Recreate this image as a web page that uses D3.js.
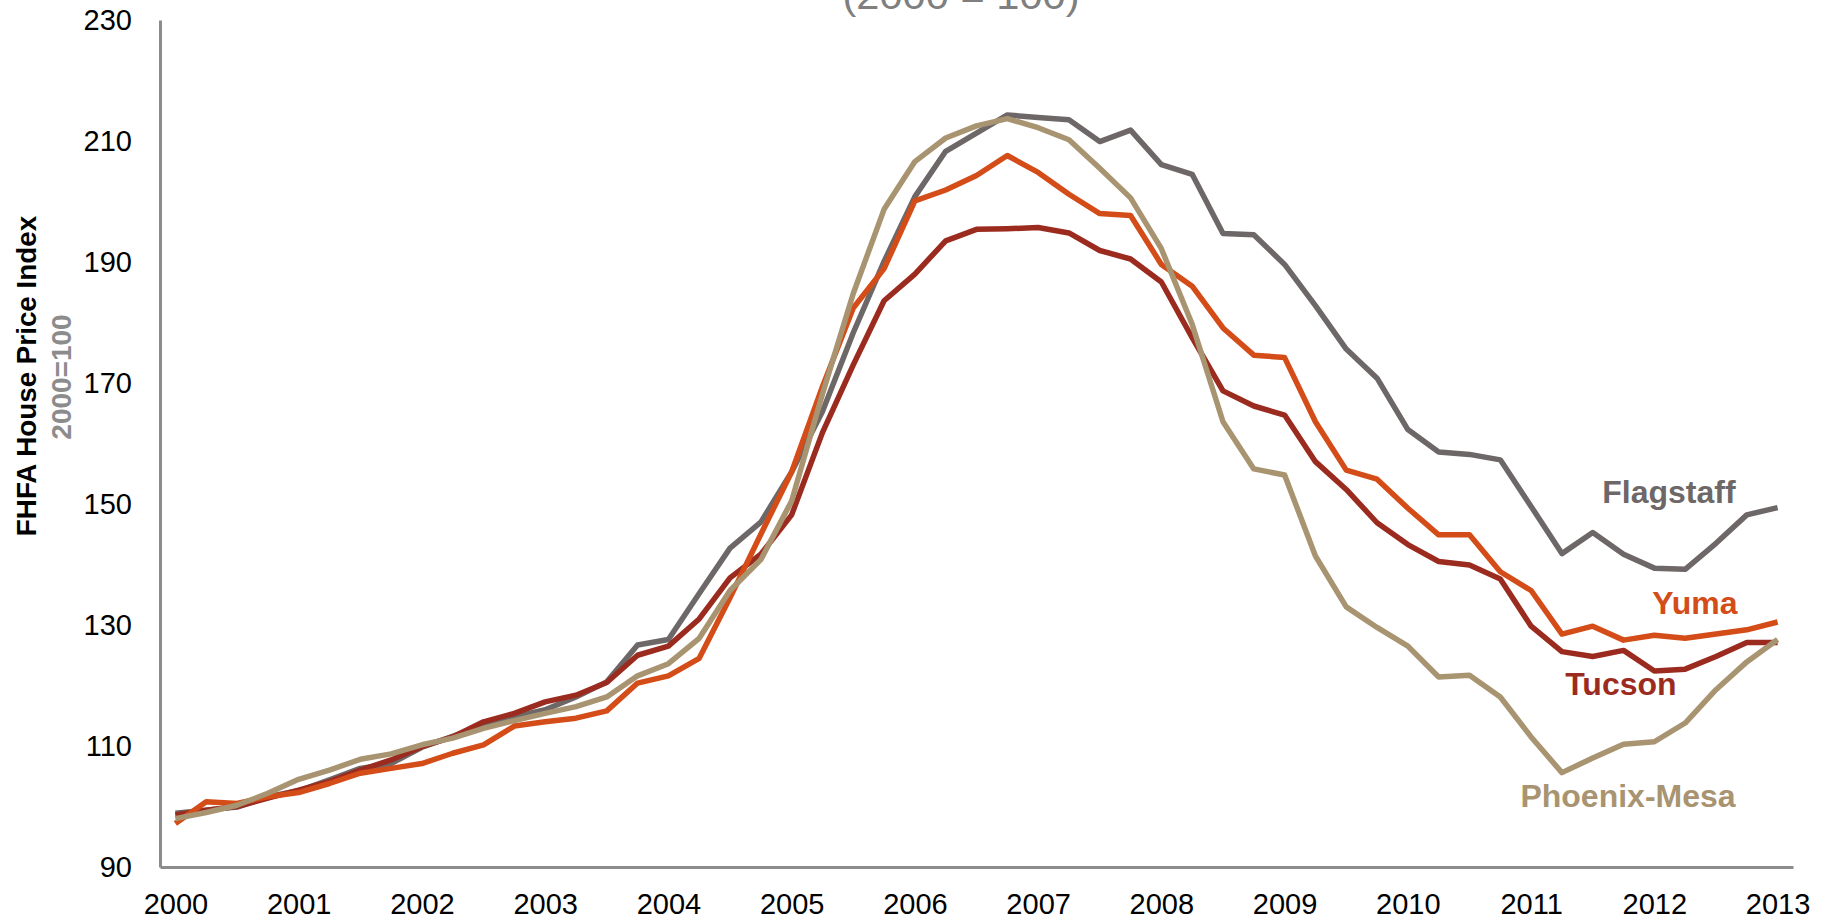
<!DOCTYPE html>
<html>
<head>
<meta charset="utf-8">
<script src="https://cdn.jsdelivr.net/npm/d3@7/dist/d3.min.js"></script>
<style>
  html, body { margin: 0; padding: 0; background: #ffffff; overflow: hidden; }
  svg { display: block; }
</style>
</head>
<body>
<svg id="chart" width="1830" height="920"></svg>
<script>
// ---------------- DATA ----------------
const quarters = [
  "2000 Q1","2000 Q2","2000 Q3","2000 Q4","2001 Q1","2001 Q2","2001 Q3","2001 Q4",
  "2002 Q1","2002 Q2","2002 Q3","2002 Q4","2003 Q1","2003 Q2","2003 Q3","2003 Q4",
  "2004 Q1","2004 Q2","2004 Q3","2004 Q4","2005 Q1","2005 Q2","2005 Q3","2005 Q4",
  "2006 Q1","2006 Q2","2006 Q3","2006 Q4","2007 Q1","2007 Q2","2007 Q3","2007 Q4",
  "2008 Q1","2008 Q2","2008 Q3","2008 Q4","2009 Q1","2009 Q2","2009 Q3","2009 Q4",
  "2010 Q1","2010 Q2","2010 Q3","2010 Q4","2011 Q1","2011 Q2","2011 Q3","2011 Q4",
  "2012 Q1","2012 Q2","2012 Q3","2012 Q4","2013 Q1"
];
const yearTickQuarters = ["2000 Q1","2001 Q1","2002 Q1","2003 Q1","2004 Q1","2005 Q1","2006 Q1",
  "2007 Q1","2008 Q1","2009 Q1","2010 Q1","2011 Q1","2012 Q1","2013 Q1"];
const yearTickLabels = ["2000","2001","2002","2003","2004","2005","2006",
  "2007","2008","2009","2010","2011","2012","2013"];
const yTicks = [90, 110, 130, 150, 170, 190, 210, 230];

const flagstaff = [98.9,99.4,99.9,101.6,102.6,104.4,106.3,107.1,109.8,111.6,113.4,114.8,116.0,118.1,120.6,126.7,
  127.6,135.2,142.7,147.0,155.3,165.3,178.3,190.1,200.8,208.3,211.3,214.3,213.9,213.5,209.9,211.8,
  206.1,204.5,194.7,194.5,189.6,182.8,175.6,170.8,162.3,158.6,158.2,157.3,149.6,141.8,145.3,141.7,
  139.4,139.2,143.5,148.2,149.4];
const tucson = [98.6,99.4,100.0,101.4,102.7,104.1,106.0,107.7,109.9,111.5,114.0,115.4,117.3,118.4,120.5,125.0,
  126.5,131.0,137.8,141.7,148.2,161.8,173.0,183.6,188.0,193.5,195.4,195.5,195.7,194.8,191.9,190.5,
  186.7,177.5,168.7,166.2,164.7,157.0,152.4,146.9,143.3,140.5,139.9,137.6,129.8,125.6,124.8,125.8,
  122.4,122.7,124.8,127.1,127.1];
const yuma = [97.2,100.8,100.5,101.6,102.3,103.8,105.5,106.3,107.1,108.8,110.2,113.3,114.0,114.6,115.8,120.4,
  121.6,124.5,134.5,145.0,155.3,169.4,182.4,188.9,200.1,201.9,204.3,207.6,204.8,201.2,198.0,197.7,
  189.6,186.0,179.1,174.6,174.2,163.6,155.6,154.1,149.3,144.9,144.9,138.8,135.7,128.5,129.8,127.5,
  128.3,127.8,128.5,129.2,130.5];
const phoenixMesa = [98.0,99.0,100.2,102.2,104.5,106.0,107.8,108.7,110.2,111.3,112.9,114.2,115.4,116.5,118.1,121.6,
  123.6,127.8,135.7,140.8,150.5,168.2,184.8,198.7,206.6,210.5,212.5,213.7,212.2,210.2,205.5,200.6,
  192.2,179.7,163.6,155.8,154.8,141.4,133.0,129.6,126.5,121.4,121.7,118.1,111.5,105.6,108.0,110.3,
  110.7,113.8,119.3,123.9,127.6];

const seriesNames = ["Flagstaff", "Tucson", "Yuma", "Phoenix-Mesa"];
const seriesValues = [flagstaff, tucson, yuma, phoenixMesa];
const seriesColors = ["#6d6867", "#9c2b1f", "#d44c17", "#a89471"];

// ---------------- CHART ----------------
const svg = d3.select("#chart");
const FONT = "'Liberation Sans', Arial, sans-serif";

const x = d3.scalePoint().domain(quarters).range([160, 1793]).padding(0.5);
const y = d3.scaleLinear().domain([90, 230]).range([867, 20]);

// subtitle (mostly cut off at the top, as in the reference)
svg.append("text")
  .attr("x", 961).attr("y", 8.5)
  .attr("text-anchor", "middle")
  .attr("font-family", FONT).attr("font-size", 38)
  .attr("fill", "#7f7f7f")
  .attr("textLength", 237).attr("lengthAdjust", "spacingAndGlyphs")
  .text("(2000 = 100)");

// Y axis
const yAxis = svg.append("g").attr("transform", "translate(160,0)")
  .call(d3.axisLeft(y).tickValues(yTicks).tickSize(0).tickPadding(28).tickFormat(d3.format("d")));
yAxis.select(".domain").attr("stroke", "#8c8c8c").attr("stroke-width", 3);
yAxis.selectAll("text").attr("font-family", FONT).attr("font-size", 29).attr("fill", "#000");

// X axis
const xAxis = svg.append("g").attr("transform", "translate(0,867)")
  .call(d3.axisBottom(x).tickValues(yearTickQuarters).tickSize(0).tickPadding(26)
    .tickFormat((d) => yearTickLabels[yearTickQuarters.indexOf(d)]));
xAxis.select(".domain").attr("stroke", "#8c8c8c").attr("stroke-width", 3);
xAxis.selectAll("text").attr("font-family", FONT).attr("font-size", 29).attr("fill", "#000");

// Y axis titles
svg.append("text")
  .attr("transform", "translate(36,376) rotate(-90)")
  .attr("text-anchor", "middle")
  .attr("font-family", FONT).attr("font-size", 27.8).attr("font-weight", "bold")
  .attr("fill", "#000")
  .text("FHFA House Price Index");
svg.append("text")
  .attr("transform", "translate(71,377) rotate(-90)")
  .attr("text-anchor", "middle")
  .attr("font-family", FONT).attr("font-size", 28).attr("font-weight", "bold")
  .attr("fill", "#8c8c8c")
  .text("2000=100");

// Lines
const line = d3.line()
  .x((d, i) => x(quarters[i]))
  .y((d) => y(d));

svg.append("g").selectAll("path")
  .data(seriesValues)
  .join("path")
  .attr("d", (d) => line(d))
  .attr("fill", "none")
  .attr("stroke", (d, i) => seriesColors[i])
  .attr("stroke-width", 5.5)
  .attr("stroke-linejoin", "round")
  .attr("stroke-linecap", "butt");

// Series labels (placed near the right end)
const lastQ = quarters[quarters.length - 1];
const labelSpec = [
  { name: "Flagstaff",    dx: -42,  v: 150.2 },
  { name: "Tucson",       dx: -101, v: 118.4 },
  { name: "Yuma",         dx: -40,  v: 131.8 },
  { name: "Phoenix-Mesa", dx: -42,  v: 99.9 }
];
svg.append("g").selectAll("text")
  .data(labelSpec)
  .join("text")
  .attr("x", (d) => x(lastQ) + d.dx)
  .attr("y", (d) => y(d.v))
  .attr("text-anchor", "end")
  .attr("font-family", FONT).attr("font-size", 32).attr("font-weight", "bold")
  .attr("fill", (d) => seriesColors[seriesNames.indexOf(d.name)])
  .text((d) => d.name);
</script>
</body>
</html>
